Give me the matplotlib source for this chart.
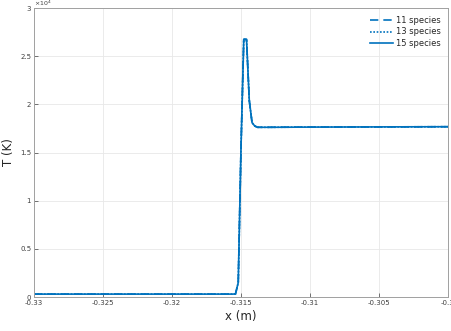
import matplotlib
matplotlib.use("Agg")
import matplotlib.pyplot as plt

# Data (x in m, T in K)
x_vals = [-0.33, -0.3200, -0.3156, -0.3154, -0.3152, -0.3150, -0.3148, -0.3146,
          -0.3144, -0.3142, -0.3140, -0.3138, -0.3130, -0.3100, -0.3050, -0.3000]
T_11 = [300, 300, 300, 320, 1500, 15500, 26750, 26750,
        20400, 18100, 17750, 17620, 17620, 17640, 17660, 17680]
T_13 = list(T_11)
T_15 = list(T_11)

series_labels = ["11 species", "13 species", "15 species"]
x_ticks = [-0.33, -0.325, -0.32, -0.315, -0.31, -0.305, -0.3]
x_tick_labels = ["-0.33", "-0.325", "-0.32", "-0.315", "-0.31", "-0.305", "-0.3"]
y_ticks = [0, 5000, 10000, 15000, 20000, 25000, 30000]
y_tick_labels = ["0", "0.5", "1", "1.5", "2", "2.5", "3"]

color = "#0072BD"
fig = plt.figure(figsize=(4.52, 3.31), dpi=100)
ax = fig.add_axes([0.0752, 0.1027, 0.916, 0.873])

ax.plot(x_vals, T_11, linestyle=(0, (5, 3)), color=color, lw=1.2, label=series_labels[0])
ax.plot(x_vals, T_13, linestyle=(0, (1, 1)), color=color, lw=1.2, label=series_labels[1])
ax.plot(x_vals, T_15, linestyle="-", color=color, lw=1.2, label=series_labels[2])

ax.set_xlim(-0.33, -0.3)
ax.set_ylim(0, 30000)
ax.set_xticks(x_ticks)
ax.set_xticklabels(x_tick_labels)
ax.set_yticks(y_ticks)
ax.set_yticklabels(y_tick_labels)
ax.tick_params(direction="in", labelsize=5, colors="#404040", length=3, width=0.5,
               top=False, right=False, pad=2)
ax.grid(True, color="#e8e8e8", lw=0.6)
ax.set_axisbelow(True)
for s in ax.spines.values():
    s.set_color("#a0a0a0")
    s.set_linewidth(0.7)

ax.set_xlabel("x (m)", fontsize=8.5, color="#262626")
ax.xaxis.set_label_coords(0.5, -0.045)
ax.set_ylabel("T (K)", fontsize=8.5, color="#262626")
ax.yaxis.set_label_coords(-0.045, 0.5)
ax.text(0.0, 1.0, r"$\times10^4$", transform=ax.transAxes, fontsize=4.5,
        color="#404040", ha="left", va="bottom")

leg = ax.legend(loc="upper right", frameon=False, fontsize=6, handlelength=2.8,
                handletextpad=0.3, labelspacing=0.35, borderaxespad=0.5)
for t in leg.get_texts():
    t.set_color("#262626")

fig.savefig("out.png", dpi=100)
